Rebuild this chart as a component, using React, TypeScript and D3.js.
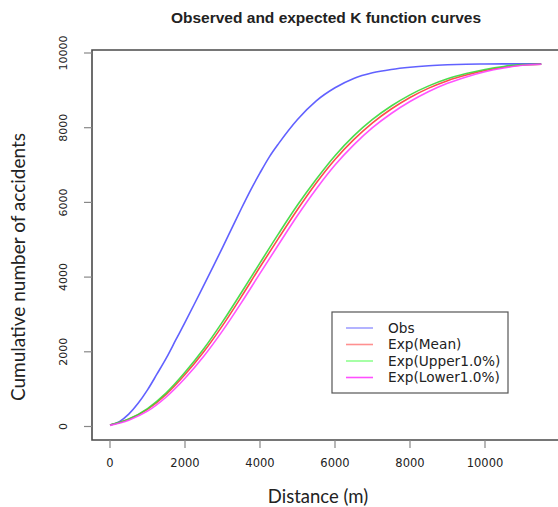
import * as d3 from "d3";
import { useEffect, useRef } from "react";

// distance (m) at which each curve is sampled
const distObs = [0, 250, 500, 750, 1000, 1250, 1500, 1750, 2000, 2250, 2500, 2750, 3000, 3250, 3500, 3750, 4000, 4250, 4500, 5000, 5500, 6000, 6500, 7000, 7500, 8000, 8500, 9000, 9500, 10000, 10500, 11000, 11500];
const obs = [40, 130, 330, 620, 980, 1400, 1830, 2310, 2790, 3280, 3780, 4280, 4790, 5310, 5830, 6330, 6790, 7220, 7580, 8220, 8720, 9070, 9320, 9470, 9560, 9620, 9660, 9685, 9700, 9705, 9708, 9710, 9710];

const distExp = [0, 500, 1000, 1500, 2000, 2500, 3000, 3500, 4000, 4500, 5000, 5500, 6000, 6500, 7000, 7500, 8000, 8500, 9000, 9500, 10000, 10500, 11000, 11500];
const expMean = [40, 195, 460, 860, 1390, 2000, 2700, 3470, 4270, 5050, 5810, 6520, 7150, 7680, 8130, 8500, 8810, 9060, 9260, 9410, 9530, 9620, 9680, 9700];
const expUpper = [40, 200, 480, 900, 1450, 2080, 2800, 3580, 4380, 5170, 5930, 6620, 7250, 7780, 8220, 8580, 8880, 9120, 9310, 9450, 9560, 9640, 9690, 9700];
const expLower = [30, 170, 410, 790, 1290, 1880, 2560, 3310, 4100, 4880, 5650, 6360, 7000, 7540, 8000, 8380, 8700, 8970, 9190, 9360, 9500, 9600, 9670, 9700];

const ticks = [0, 2000, 4000, 6000, 8000, 10000];

const series = [
	{ name: "Obs", dist: distObs, values: obs, color: "#5050ff", legend: "#a0a0ff" },
	{ name: "Exp(Mean)", dist: distExp, values: expMean, color: "#ff3838", legend: "#ff9090" },
	{ name: "Exp(Upper1.0%)", dist: distExp, values: expUpper, color: "#38d838", legend: "#90ff90" },
	{ name: "Exp(Lower1.0%)", dist: distExp, values: expLower, color: "#ff40ff", legend: "#ff50ff" },
];

export default function App() {
	const ref = useRef<SVGSVGElement>(null);

	useEffect(() => {
		const svg = d3.select(ref.current);
		svg.selectAll("*").remove();

		const left = 92, top = 50, bottom = 440;
		const x = d3.scaleLinear().domain([0, 10000]).range([110, 485]);
		const y = d3.scaleLinear().domain([0, 10000]).range([426.5, 53]);
		const tickFont = "'DejaVu Sans', sans-serif";

		svg.append("text").attr("x", 326).attr("y", 23).attr("text-anchor", "middle")
			.attr("font-family", "'Liberation Sans', Arial, sans-serif").attr("font-weight", "bold").attr("font-size", 15.5)
			.attr("fill", "#222").text("Observed and expected K function curves");

		// plot box (right side is cut off in the picture)
		svg.append("path").attr("d", `M600,${top}H${left}V${bottom}H600`)
			.attr("fill", "none").attr("stroke", "#4a4a4a").attr("stroke-width", 1.6);

		// y axis
		const yAxis = svg.append("g");
		yAxis.selectAll("line").data(ticks).join("line")
			.attr("x1", left - 8).attr("x2", left).attr("y1", d => y(d)).attr("y2", d => y(d))
			.attr("stroke", "#888").attr("stroke-width", 1.2);
		yAxis.selectAll("text").data(ticks).join("text")
			.attr("transform", d => `translate(67,${y(d)}) rotate(-90)`).attr("text-anchor", "middle")
			.attr("font-family", tickFont).attr("font-size", 11).attr("fill", "#222").text(d => d);

		// x axis
		const xAxis = svg.append("g");
		xAxis.selectAll("line").data(ticks).join("line")
			.attr("x1", d => x(d)).attr("x2", d => x(d)).attr("y1", bottom).attr("y2", bottom + 8)
			.attr("stroke", "#888").attr("stroke-width", 1.2);
		xAxis.selectAll("text").data(ticks).join("text")
			.attr("x", d => x(d)).attr("y", 467).attr("text-anchor", "middle")
			.attr("font-family", tickFont).attr("font-size", 11.5).attr("fill", "#222").text(d => d);

		svg.append("text").attr("x", 318).attr("y", 503).attr("text-anchor", "middle")
			.attr("font-family", "Lato, sans-serif").attr("font-size", 18.5).attr("fill", "#222").text("Distance (m)");
		svg.append("text").attr("transform", "translate(25,267) rotate(-90)").attr("text-anchor", "middle")
			.attr("font-family", "Lato, sans-serif").attr("font-size", 19).attr("fill", "#222").text("Cumulative number of accidents");

		const line = d3.line<[number, number]>().x(d => x(d[0])).y(d => y(d[1])).curve(d3.curveMonotoneX);
		series.forEach(s => {
			svg.append("path").datum(s.dist.map((d, i) => [d, s.values[i]] as [number, number]))
				.attr("fill", "none").attr("stroke", s.color).attr("stroke-width", 1.6).attr("stroke-opacity", 0.9).attr("d", line);
		});

		// legend
		const lg = svg.append("g");
		lg.append("rect").attr("x", 332).attr("y", 312).attr("width", 176).attr("height", 81)
			.attr("fill", "white").attr("stroke", "#555").attr("stroke-width", 1.2);
		series.forEach((s, i) => {
			const ly = 328 + i * 16.5;
			lg.append("line").attr("x1", 346).attr("x2", 373).attr("y1", ly).attr("y2", ly)
				.attr("stroke", s.legend).attr("stroke-width", 1.6);
			lg.append("text").attr("x", 388).attr("y", ly + 4.5).attr("font-family", tickFont).attr("font-size", 13.7)
				.attr("fill", "#222").text(s.name);
		});
	}, []);

	return <svg ref={ref} width={558} height={507} style={{ position: "absolute", left: 0, top: 0, background: "white" }} />;
}
